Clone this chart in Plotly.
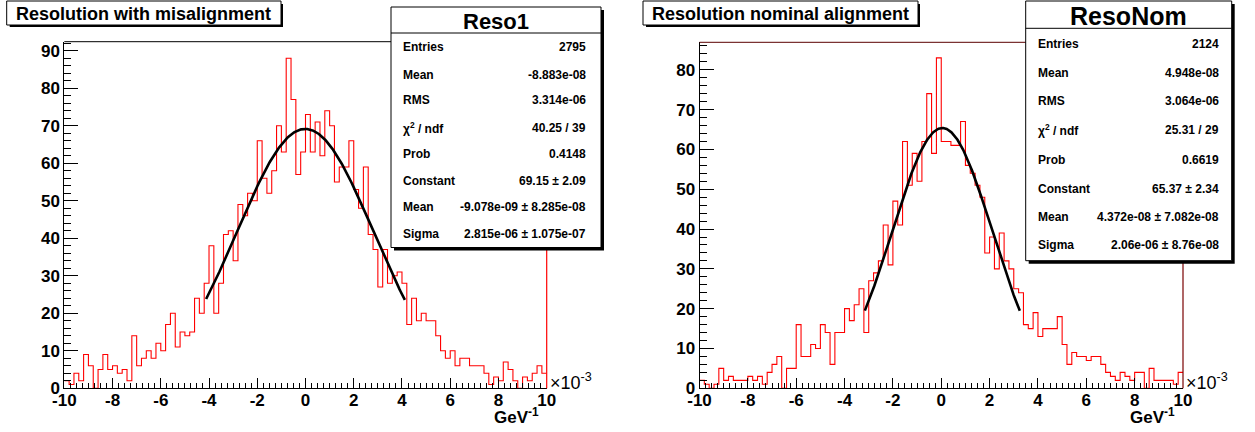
import numpy as np
import plotly.graph_objects as go

W, H = 1255, 432

# ---------------- data ----------------
n_bins = 100
x_lo, x_hi = -10.0, 10.0   # axis units (x 10^-3 GeV^-1)

reso1_counts = [
    2, 1, 4, 2, 9, 6, 0, 5, 9, 5,
    6, 4, 5, 2, 14, 6, 8, 10, 8, 12,
    10, 17, 20, 11, 15, 14, 15, 24, 20, 28,
    38, 20, 28, 41, 42, 34, 49, 46, 52, 50,
    66, 56, 52, 58, 70, 63, 88, 77, 57, 63,
    73, 63, 71, 62, 74, 70, 55, 59, 59, 66,
    53, 48, 59, 41, 37, 27, 37, 28, 30, 31,
    28, 17, 24, 18, 20, 18, 18, 14, 10, 8,
    10, 6, 8, 8, 6, 6, 6, 4, 1, 3,
    2, 7, 5, 2, 0, 3, 2, 4, 6, 4,
]

resonom_counts = [
    2, 1, 0, 1, 5, 2, 3, 2, 2, 2,
    3, 2, 3, 1, 4, 6, 8, 0, 5, 5,
    16, 8, 8, 11, 10, 16, 14, 6, 14, 14,
    20, 17, 21, 25, 14, 27, 29, 32, 41, 31,
    47, 41, 62, 51, 59, 52, 62, 74, 59, 83,
    62, 62, 61, 61, 67, 56, 54, 51, 48, 34,
    38, 30, 39, 32, 30, 25, 24, 16, 15, 19,
    13, 15, 15, 15, 18, 11, 6, 9, 8, 8,
    7, 8, 8, 6, 4, 3, 2, 4, 3, 2,
    4, 4, 0, 5, 2, 2, 2, 2, 1, 4,
]

# Gaussian fit parameters (from stats boxes), x in axis units
reso1_fit_const, reso1_fit_mean, reso1_fit_sigma = 69.15, -0.009078, 2.815
reso1_fit_range = (-4.12, 4.12)
resonom_fit_const, resonom_fit_mean, resonom_fit_sigma = 65.37, 0.04372, 2.06
resonom_fit_range = (-3.16, 3.25)

reso1_stats = [
    ("Entries", "2795"), ("Mean", "-8.883e-08"), ("RMS", "3.314e-06"),
    ("χ<sup>2</sup> / ndf", "40.25 / 39"), ("Prob", "0.4148"),
    ("Constant", "69.15 ± 2.09"), ("Mean", "-9.078e-09 ± 8.285e-08"),
    ("Sigma", "2.815e-06 ± 1.075e-07"),
]
resonom_stats = [
    ("Entries", "2124"), ("Mean", "4.948e-08"), ("RMS", "3.064e-06"),
    ("χ<sup>2</sup> / ndf", "25.31 / 29"), ("Prob", "0.6619"),
    ("Constant", "65.37 ± 2.34"), ("Mean", "4.372e-08 ± 7.082e-08"),
    ("Sigma", "2.06e-06 ± 8.76e-08"),
]

# ---------------- helpers ----------------
def px(x):
    return x / W

def py(y):
    return 1 - y / H

FONT = "Liberation Sans"
edges = np.linspace(x_lo, x_hi, n_bins + 1)

fig = go.Figure()

panels = [
    dict(counts=reso1_counts, fit=(reso1_fit_const, reso1_fit_mean, reso1_fit_sigma),
         rng=reso1_fit_range, xa="x", ya="y", xdom=(64.3, 546.7), ytop=41.7, ymax=92.4,
         title="Resolution with misalignment", tbox=(6.7, 1, 281, 25),
         sname="Reso1", sbox=(391, 7, 601, 247.5), ssep=33, stitle_size=22,
         rows_y=[46.7, 75, 100.5, 127.7, 154.3, 181, 207.3, 233.5], lab_x=401, val_x=588,
         stats=reso1_stats, topcol="black", rightcol="#ff0000", ytick_max=90),
    dict(counts=resonom_counts, fit=(resonom_fit_const, resonom_fit_mean, resonom_fit_sigma),
         rng=resonom_fit_range, xa="x2", ya="y2", xdom=(699.5, 1183), ytop=42.3, ymax=86.9,
         title="Resolution nominal alignment", tbox=(643, 1, 918, 25),
         sname="ResoNom", sbox=(1025.7, 1, 1231.7, 260.7), ssep=28.3, stitle_size=25,
         rows_y=[44, 72.7, 101, 129.5, 159.5, 188.5, 217.3, 245], lab_x=1036, val_x=1220.7,
         stats=resonom_stats, topcol="#5a0000", rightcol="#7a0000", ytick_max=80),
]

shapes = []
annotations = []
bottom = 388.3

for i, p in enumerate(panels):
    counts = list(p["counts"])
    fig.add_trace(go.Scatter(
        x=list(edges), y=counts + [counts[-1]], mode="lines",
        line=dict(color="#ff0000", width=1.1, shape="hv"),
        xaxis=p["xa"], yaxis=p["ya"], showlegend=False, hoverinfo="skip"))
    c, m, s = p["fit"]
    xf = np.linspace(p["rng"][0], p["rng"][1], 300)
    yf = c * np.exp(-0.5 * ((xf - m) / s) ** 2)
    fig.add_trace(go.Scatter(
        x=xf, y=yf, mode="lines", line=dict(color="black", width=2.6),
        xaxis=p["xa"], yaxis=p["ya"], showlegend=False, hoverinfo="skip"))

    x0, x1 = p["xdom"]
    ax_common = dict(showgrid=False, zeroline=False, showline=True, linecolor="black",
                     linewidth=1, ticks="inside", tickcolor="black", automargin=False,
                     tickfont=dict(family=FONT, size=17, color="black", weight="bold"))
    xkey = "xaxis" if i == 0 else "xaxis2"
    ykey = "yaxis" if i == 0 else "yaxis2"
    fig.update_layout({
        xkey: dict(domain=[px(x0), px(x1)], range=[x_lo, x_hi], anchor=p["ya"],
                   tickmode="array", tickvals=list(range(-10, 11, 2)),
                   ticktext=[str(v) for v in range(-10, 11, 2)],
                   ticklen=10, tickwidth=1, ticklabelstandoff=-4,
                   minor=dict(ticks="inside", ticklen=5, dtick=0.25, tick0=-10,
                              tickcolor="black", tickwidth=1),
                   **ax_common),
        ykey: dict(domain=[py(bottom), py(p["ytop"])], range=[0, p["ymax"]], anchor=p["xa"],
                   tickmode="array", tickvals=list(range(0, p["ytick_max"] + 1, 10)),
                   ticklen=14, tickwidth=1, ticklabelstandoff=0,
                   minor=dict(ticks="inside", ticklen=7, dtick=2, tick0=0,
                              tickcolor="black", tickwidth=1),
                   **ax_common),
    })

    # frame top and right
    shapes.append(dict(type="line", xref="paper", yref="paper",
                       x0=px(x0), x1=px(x1), y0=py(p["ytop"]), y1=py(p["ytop"]),
                       line=dict(color=p["topcol"], width=1)))
    shapes.append(dict(type="line", xref="paper", yref="paper",
                       x0=px(x1), x1=px(x1), y0=py(p["ytop"]), y1=py(bottom),
                       line=dict(color=p["rightcol"], width=1.2)))

    # title box with shadow
    tx0, ty0, tx1, ty1 = p["tbox"]
    shapes.append(dict(type="rect", xref="paper", yref="paper",
                       x0=px(tx0 + 3), x1=px(tx1 + 2), y0=py(ty1 + 2), y1=py(ty0 + 3),
                       fillcolor="black", line=dict(width=0)))
    shapes.append(dict(type="rect", xref="paper", yref="paper",
                       x0=px(tx0), x1=px(tx1), y0=py(ty1), y1=py(ty0),
                       fillcolor="white", line=dict(color="black", width=1)))
    annotations.append(dict(xref="paper", yref="paper", x=px((tx0 + tx1) / 2),
                            y=py((ty0 + ty1) / 2 + 0.5), text=p["title"], showarrow=False,
                            xanchor="center", yanchor="middle",
                            font=dict(family=FONT, size=18, color="black", weight="bold")))

    # stats box with shadow
    sx0, sy0, sx1, sy1 = p["sbox"]
    shapes.append(dict(type="rect", xref="paper", yref="paper",
                       x0=px(sx0 + 3), x1=px(sx1 + 3), y0=py(sy1 + 3), y1=py(sy0 + 3),
                       fillcolor="black", line=dict(width=0)))
    shapes.append(dict(type="rect", xref="paper", yref="paper",
                       x0=px(sx0), x1=px(sx1), y0=py(sy1), y1=py(sy0),
                       fillcolor="white", line=dict(color="black", width=1)))
    shapes.append(dict(type="line", xref="paper", yref="paper",
                       x0=px(sx0), x1=px(sx1), y0=py(p["ssep"]), y1=py(p["ssep"]),
                       line=dict(color="black", width=1)))
    annotations.append(dict(xref="paper", yref="paper", x=px((sx0 + sx1) / 2),
                            y=py((sy0 + p["ssep"]) / 2 + 1), text=p["sname"], showarrow=False,
                            xanchor="center", yanchor="middle",
                            font=dict(family=FONT, size=p["stitle_size"], color="black",
                                      weight="bold")))
    for (lab, val), yy in zip(p["stats"], p["rows_y"]):
        annotations.append(dict(xref="paper", yref="paper", x=px(p["lab_x"]), y=py(yy),
                                text=lab, showarrow=False, xanchor="left", yanchor="middle",
                                font=dict(family=FONT, size=12, color="black", weight="bold")))
        annotations.append(dict(xref="paper", yref="paper", x=px(p["val_x"]), y=py(yy),
                                text=val, showarrow=False, xanchor="right", yanchor="middle",
                                font=dict(family=FONT, size=12, color="black", weight="bold")))

    # axis scale label and unit
    annotations.append(dict(xref="paper", yref="paper", x=px(x1 + 1), y=py(381),
                            text="×10<sup>-3</sup>", showarrow=False,
                            xanchor="left", yanchor="middle",
                            font=dict(family=FONT, size=18, color="black")))
    annotations.append(dict(xref="paper", yref="paper", x=px(x1 - 6), y=py(416),
                            text="GeV<sup>-1</sup>", showarrow=False,
                            xanchor="right", yanchor="middle",
                            font=dict(family=FONT, size=17, color="black", weight="bold")))

fig.update_layout(width=W, height=H, margin=dict(l=0, r=0, t=0, b=0),
                  paper_bgcolor="white", plot_bgcolor="white",
                  shapes=shapes, annotations=annotations, showlegend=False)

fig.write_html("out.html", config={"displayModeBar": False},
               post_script="document.body.style.margin='0';document.body.style.overflow='hidden';")
